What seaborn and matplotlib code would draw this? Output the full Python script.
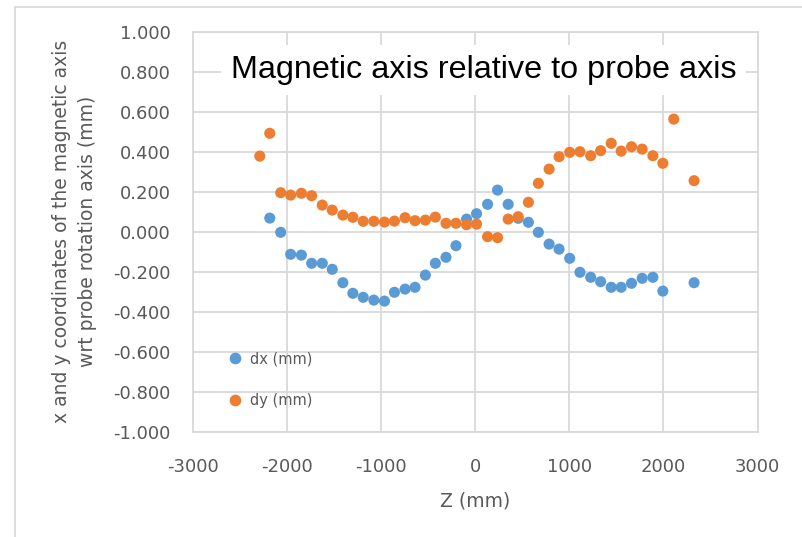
import numpy as np
import pandas as pd
import matplotlib
matplotlib.use("Agg")
import matplotlib.pyplot as plt
from matplotlib.patches import Rectangle
import seaborn as sns

# Longitudinal positions along the magnet (mm)
z_mm = [-2290, -2184, -2068, -1962, -1848, -1739, -1626, -1520, -1407, -1301,
        -1191, -1078, -965, -859, -746, -640, -530, -424, -311, -205,
        -92, 14, 131, 237, 350, 456, 565, 671, 785, 891,
        1004, 1113, 1227, 1333, 1445, 1551, 1661, 1774, 1888, 1994,
        2110, 2326]

# Horizontal offset of the magnetic axis (mm); no reading at the first and 2110 mm stations
dx_mm = [np.nan, 0.068, -0.003, -0.113, -0.117, -0.158, -0.158, -0.188, -0.255, -0.308,
         -0.328, -0.342, -0.347, -0.303, -0.287, -0.278, -0.217, -0.158, -0.128, -0.070,
         0.063, 0.090, 0.137, 0.208, 0.137, 0.067, 0.047, -0.003, -0.062, -0.087,
         -0.133, -0.203, -0.228, -0.250, -0.278, -0.278, -0.258, -0.233, -0.228, -0.297,
         np.nan, -0.255]

# Vertical offset of the magnetic axis (mm)
dy_mm = [0.378, 0.492, 0.195, 0.183, 0.192, 0.180, 0.133, 0.108, 0.083, 0.072,
         0.052, 0.052, 0.048, 0.053, 0.070, 0.055, 0.058, 0.073, 0.042, 0.042,
         0.035, 0.038, -0.025, -0.030, 0.063, 0.075, 0.147, 0.242, 0.313, 0.375,
         0.397, 0.400, 0.380, 0.405, 0.442, 0.403, 0.425, 0.413, 0.380, 0.342,
         0.563, 0.255]

series_names = ["dx (mm)", "dy (mm)"]
x_ticks = [-3000, -2000, -1000, 0, 1000, 2000, 3000]
y_ticks = [-1.0, -0.8, -0.6, -0.4, -0.2, 0.0, 0.2, 0.4, 0.6, 0.8, 1.0]

df = pd.DataFrame({
    "Z": z_mm * 2,
    "value": dx_mm + dy_mm,
    "series": [series_names[0]] * len(z_mm) + [series_names[1]] * len(z_mm),
}).dropna()

sns.set_theme(style="white")
plt.rcParams["font.family"] = ["DejaVu Sans"]

grid_col = "#d9d9d9"
text_col = "#595959"

fig = plt.figure(figsize=(8.02, 5.37), dpi=100)
ax = fig.add_axes([193 / 802, 1 - 431.7 / 537, 564.5 / 802, 400 / 537])

sns.scatterplot(data=df, x="Z", y="value", hue="series",
                palette={"dx (mm)": "#5B9BD5", "dy (mm)": "#ED7D31"},
                s=64, linewidth=0, ax=ax, zorder=3)

ax.set_xlim(-3000, 3000)
ax.set_ylim(-1.0, 1.0)
ax.set_xticks(x_ticks)
ax.set_yticks(y_ticks)
ax.set_xticklabels([f"{t}" for t in x_ticks])
ax.set_yticklabels([f"{t:.3f}" for t in y_ticks])
ax.tick_params(axis="both", colors=text_col, labelsize=13, length=0)
ax.tick_params(axis="x", pad=19)
ax.tick_params(axis="y", pad=16)

ax.grid(True, color=grid_col, linewidth=1.3, zorder=0)
ax.set_axisbelow(True)
for sp in ax.spines.values():
    sp.set_color(grid_col)
    sp.set_linewidth(1.3)

ax.set_xlabel("Z (mm)", color=text_col, fontsize=13.5, labelpad=11)
ax.set_ylabel("x and y coordinates of the magnetic axis\nwrt probe rotation axis (mm)",
              color=text_col, fontsize=13.5, labelpad=12, linespacing=1.45)

ax.text(0.515, 0.904, "Magnetic axis relative to probe axis",
        transform=ax.transAxes, ha="center", va="center",
        fontsize=23.3, family=["Liberation Sans", "DejaVu Sans"], color="black",
        bbox=dict(facecolor="white", edgecolor="none", pad=7), zorder=5)

leg = ax.legend(loc="lower left", bbox_to_anchor=(0.028, 0.03), frameon=False,
                fontsize=10.5, labelspacing=1.85, handletextpad=0.0,
                markerscale=1.05, borderpad=0.3)
for t in leg.get_texts():
    t.set_color(text_col)

# Light frame around the chart area
fig.patches.append(Rectangle((15 / 802, -0.1), 2.0, 1.1 - 7 / 537,
                             transform=fig.transFigure, fill=False,
                             edgecolor=grid_col, linewidth=1.3))

fig.savefig("out.png", dpi=100)
